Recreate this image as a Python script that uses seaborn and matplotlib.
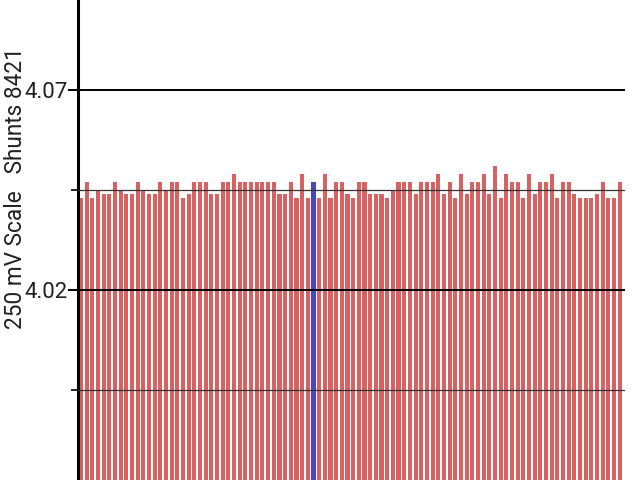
import seaborn as sns
import pandas as pd
import matplotlib.pyplot as plt

sns.set_theme(style="white")
plt.rcParams['font.family'] = ['Roboto', 'DejaVu Sans']

# cell voltages (V)
volts = [
    4.043, 4.047, 4.043, 4.045, 4.044, 4.044, 4.047, 4.045, 4.044, 4.044,
    4.047, 4.045, 4.044, 4.044, 4.047, 4.045, 4.047, 4.047, 4.043, 4.044,
    4.047, 4.047, 4.047, 4.044, 4.044, 4.047, 4.047, 4.049, 4.047, 4.047,
    4.047, 4.047, 4.047, 4.047, 4.047, 4.044, 4.044, 4.047, 4.043, 4.049,
    4.043, 4.047, 4.043, 4.049, 4.043, 4.047, 4.047, 4.044, 4.043, 4.047,
    4.047, 4.044, 4.044, 4.044, 4.043, 4.045, 4.047, 4.047, 4.047, 4.044,
    4.047, 4.047, 4.047, 4.049, 4.044, 4.047, 4.043, 4.049, 4.044, 4.047,
    4.047, 4.049, 4.044, 4.051, 4.043, 4.049, 4.047, 4.047, 4.043, 4.049,
    4.044, 4.047, 4.047, 4.049, 4.043, 4.047, 4.047, 4.044, 4.043, 4.043,
    4.043, 4.044, 4.047, 4.043, 4.043, 4.047,
]
selected = 41
major_ticks = [4.02, 4.07]
major_labels = ["4.02", "4.07"]
minor_ticks = [3.995, 4.045]
ylabel = "250 mV Scale   Shunts 8421"

cells = [str(i) for i in range(len(volts))]
colors = ["#4747c2" if i == selected else "#d86262" for i in range(len(volts))]
df = pd.DataFrame({"cell": cells, "volts": volts})

fig = plt.figure(figsize=(6.4, 4.8), dpi=100)
ax = fig.add_axes([78 / 640, 0, 547 / 640, 1])

sns.barplot(data=df, x="cell", y="volts", hue="cell", palette=colors,
            legend=False, width=0.72, saturation=1, linewidth=0, ax=ax)

ax.set_ylim(3.9725, 4.0925)
ax.set_xlim(-0.53, 95.94)
ax.set_yticks(major_ticks)
ax.set_yticklabels(major_labels)
ax.set_yticks(minor_ticks, minor=True)
ax.set_xticks([])
ax.set_xlabel("")
ax.set_ylabel("")

ax.set_axisbelow(False)
ax.yaxis.grid(True, which="major", color="black", lw=1.4)
ax.yaxis.grid(True, which="minor", color="#333333", lw=0.9)
ax.xaxis.grid(False)

for side in ["top", "right", "bottom"]:
    ax.spines[side].set_visible(False)
ax.spines["left"].set_color("black")
ax.spines["left"].set_linewidth(2.2)

ax.tick_params(axis="y", which="major", left=True, length=7.2, width=1.4,
               color="black", labelsize=16, labelcolor="#222222", pad=0.3)
ax.tick_params(axis="y", which="minor", left=True, length=5, width=1.2,
               color="black")

fig.text(16 / 640, 1 - 188 / 480, ylabel, rotation=90, ha="center",
         va="center", fontsize=16.3, color="#222222")

plt.savefig("out.png", dpi=100)
